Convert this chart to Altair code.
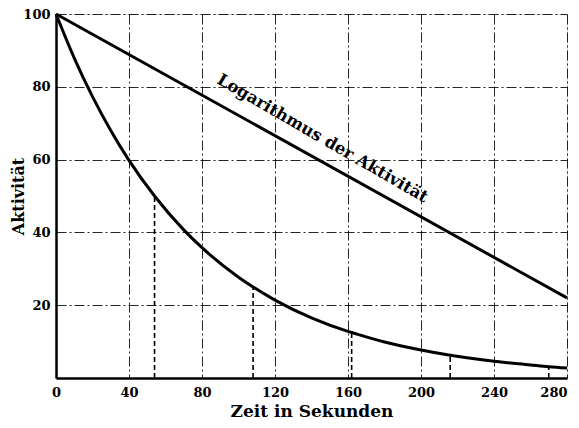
import altair as alt
import pandas as pd

# Decay curve (activity vs time)
curve_t = [0, 10, 20, 30, 40, 54, 70, 80, 100, 108, 120, 140, 160, 162, 180, 200, 216, 240, 260, 270, 280]
curve_a = [100, 87.9, 77.3, 68, 59.8, 50, 40.7, 35.8, 27.7, 25, 21.4, 16.5, 12.8, 12.5, 9.9, 7.7, 6.25, 4.6, 3.6, 3.1, 2.75]

# Straight line: logarithm of activity
log_t = [0, 280]
log_a = [100, 22]

# Dashed half-life markers
half_t = [54, 108, 162, 216, 270]
half_a = [50, 25, 12.5, 6.25, 3.1]

x_ticks = [0, 40, 80, 120, 160, 200, 240, 280]
y_ticks = [20, 40, 60, 80, 100]

label_text = ["Logarithmus der Aktivität"]
label_t = [146]
label_a = [65.8]

FONT = "DejaVu Serif"

curve_df = pd.DataFrame({"t": curve_t, "a": curve_a})
log_df = pd.DataFrame({"t": log_t, "a": log_a})
half_df = pd.DataFrame({"t": half_t, "a": half_a, "z": [0] * len(half_t)})
lab_df = pd.DataFrame({"t": label_t, "a": label_a, "txt": label_text})

xs = alt.Scale(domain=[0, 280], nice=False, zero=False)
ys = alt.Scale(domain=[0, 100], nice=False, zero=False)

xax = alt.Axis(values=x_ticks, title="Zeit in Sekunden", grid=True, gridColor="black",
               gridDash=[10, 3, 2, 3], gridWidth=1, gridOpacity=0.85, tickSize=0, labelPadding=8,
               labelFont=FONT, labelFontWeight="bold", labelFontSize=13, labelColor="black",
               labelAlign={"expr": "datum.value == 280 ? 'right' : 'center'"},
               titleFont=FONT, titleFontWeight="bold", titleFontSize=17, titleColor="black",
               titleY=38, titleBaseline="alphabetic",
               domainColor="black", domainWidth=2.5, labelFlush=False)
yax = alt.Axis(values=y_ticks, title="Aktivität", grid=True, gridColor="black",
               gridDash=[10, 3, 2, 3], gridWidth=1, gridOpacity=0.85, tickSize=0, labelPadding=6,
               labelFont=FONT, labelFontWeight="bold", labelFontSize=13, labelColor="black",
               titleFont=FONT, titleFontWeight="bold", titleFontSize=16, titleColor="black",
               titleX=-33, titleBaseline="alphabetic",
               domainColor="black", domainWidth=2.5, labelFlush=False)

base_curve = alt.Chart(curve_df).mark_line(color="black", strokeWidth=3, interpolate="monotone").encode(
    x=alt.X("t:Q", scale=xs, axis=xax),
    y=alt.Y("a:Q", scale=ys, axis=yax),
)

log_line = alt.Chart(log_df).mark_line(color="black", strokeWidth=3).encode(
    x=alt.X("t:Q", scale=xs),
    y=alt.Y("a:Q", scale=ys),
)

half_lines = alt.Chart(half_df).mark_rule(color="black", strokeWidth=1.6, strokeDash=[5, 3]).encode(
    x=alt.X("t:Q", scale=xs),
    y=alt.Y("z:Q", scale=ys),
    y2="a:Q",
)

label = alt.Chart(lab_df).mark_text(font=FONT, fontWeight="bold", fontSize=16.5, angle=30,
                                    align="center", baseline="middle", color="black").encode(
    x=alt.X("t:Q", scale=xs),
    y=alt.Y("a:Q", scale=ys),
    text="txt:N",
)

chart = alt.layer(half_lines, base_curve, log_line, label).properties(
    width=511, height=364,
    autosize=alt.AutoSizeParams(type="none"),
    padding={"left": 48, "top": 6, "right": 4, "bottom": 42},
).configure_view(stroke="black", strokeWidth=2).configure(background="white")

chart.save("out.html", embed_options={"renderer": "svg", "actions": False})
